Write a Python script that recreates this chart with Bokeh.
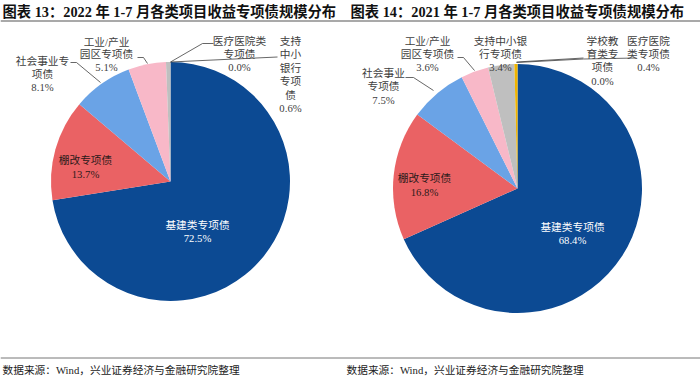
import numpy as np
from bokeh.plotting import figure
from bokeh.models import Range1d
from bokeh.core.properties import value
from bokeh.embed import file_html
from bokeh.resources import INLINE

# ---------------- data ----------------
titles = ["图表 13：2022 年 1-7 月各类项目收益专项债规模分布",
          "图表 14：2021 年 1-7 月各类项目收益专项债规模分布"]
source_note = "数据来源：Wind，兴业证券经济与金融研究院整理"

cats_2022 = ["基建类专项债", "棚改专项债", "社会事业专项债", "工业/产业园区专项债",
             "支持中小银行专项债", "医疗医院类专项债"]
vals_2022 = [72.5, 13.7, 8.1, 5.1, 0.6, 0.0]

cats_2021 = ["基建类专项债", "棚改专项债", "社会事业专项债", "工业/产业园区专项债",
             "支持中小银行专项债", "学校教育类专项债", "医疗医院类专项债"]
vals_2021 = [68.4, 16.8, 7.5, 3.6, 3.4, 0.0, 0.4]

# ---------------- styles ----------------
colors = {
    "基建类专项债": "#0c4a93",
    "棚改专项债": "#ea6264",
    "社会事业专项债": "#6aa3e6",
    "工业/产业园区专项债": "#f8b8c8",
    "支持中小银行专项债": "#bfbfbf",
    "学校教育类专项债": "#8fb04a",
    "医疗医院类专项债": "#f0b400",
}
FONT = value("Liberation Serif, Noto Sans CJK SC")
W, H = 700, 381


def Y(ry):
    return H - ry


p = figure(width=W, height=H, x_range=Range1d(0, W), y_range=Range1d(0, H),
           output_backend="svg", toolbar_location=None, min_border=0)
p.axis.visible = False
p.grid.visible = False
p.outline_line_color = None
p.background_fill_color = "white"
p.border_fill_color = "white"


def draw_pie(cx, cy, r, cats, vals):
    v = np.array(vals, dtype=float)
    frac = v / v.sum()
    cum = np.concatenate([[0], np.cumsum(frac)])
    starts = np.pi / 2 - 2 * np.pi * cum[:-1]
    ends = np.pi / 2 - 2 * np.pi * cum[1:]
    keep = v > 0
    p.wedge(x=[cx] * int(keep.sum()), y=[Y(cy)] * int(keep.sum()), radius=r,
            start_angle=list(starts[keep]), end_angle=list(ends[keep]), direction="clock",
            fill_color=[colors[c] for c, k in zip(cats, keep) if k], line_color=None)


def label(x, y0, lines, pct, step=13.3, color="#404040", size="10.7px"):
    all_lines = list(lines) + [pct]
    ys = [Y(y0 + i * step) for i in range(len(all_lines))]
    p.text(x=[x] * len(all_lines), y=ys, text=all_lines, text_font=FONT,
           text_font_size=size, text_color=color, text_align="center",
           text_baseline="middle")


def leader(pts):
    p.line(x=[a for a, b in pts], y=[Y(b) for a, b in pts], line_color="#404040",
           line_width=0.8)


def pct(vals, cats, name):
    return f"{vals[cats.index(name)]:.1f}%"


# ---------------- left pie (2022) ----------------
draw_pie(170, 181, 119.5, cats_2022, vals_2022)
label(197, 224, ["基建类专项债"], pct(vals_2022, cats_2022, "基建类专项债"), step=13, color="white")
label(85, 159, ["棚改专项债"], pct(vals_2022, cats_2022, "棚改专项债"), step=14, color="#2b1a1a")
label(42, 60, ["社会事业专", "项债"], pct(vals_2022, cats_2022, "社会事业专项债"), step=13)
label(106, 41, ["工业/产业", "园区专项债"], pct(vals_2022, cats_2022, "工业/产业园区专项债"), step=12.7)
label(239, 40, ["医疗医院类", "专项债"], pct(vals_2022, cats_2022, "医疗医院类专项债"), step=13.2)
label(290, 40, ["支持", "中小", "银行", "专项", "债"], pct(vals_2022, cats_2022, "支持中小银行专项债"), step=13.5)
leader([(70, 62), (76, 62), (100, 82)])
leader([(137, 57), (143, 57), (147, 63)])
leader([(213, 43), (202, 43), (170, 61.5)])
leader([(170, 61.5), (277, 56.5)])

# ---------------- right pie (2021) ----------------
draw_pie(517, 188, 124.5, cats_2021, vals_2021)
label(572, 226, ["基建类专项债"], pct(vals_2021, cats_2021, "基建类专项债"), step=13, color="white")
label(424, 177, ["棚改专项债"], pct(vals_2021, cats_2021, "棚改专项债"), step=14, color="#2b1a1a")
label(383, 72, ["社会事业", "专项债"], pct(vals_2021, cats_2021, "社会事业专项债"), step=13.8)
label(427, 40, ["工业/产业", "园区专项债"], pct(vals_2021, cats_2021, "工业/产业园区专项债"), step=13)
label(500, 40, ["支持中小银", "行专项债"], pct(vals_2021, cats_2021, "支持中小银行专项债"), step=13)
label(602, 40, ["学校教", "育类专", "项债"], pct(vals_2021, cats_2021, "学校教育类专项债"), step=13.4)
label(648, 40, ["医疗医院", "类专项债"], pct(vals_2021, cats_2021, "医疗医院类专项债"), step=13)
leader([(405, 77), (413, 77), (433, 90)])
leader([(457, 57), (463, 57), (474, 70)])
leader([(516, 61.5), (583, 57.5)])
leader([(516, 62), (583, 58.5), (636, 57.5)])

# ---------------- titles, rules, footers ----------------
p.text(x=[2, 350], y=[Y(11.5), Y(11.5)], text=titles, text_font=FONT,
       text_font_size="14.3px", text_font_style="bold", text_color="#111111",
       text_align="left", text_baseline="middle")
p.line(x=[0, 700], y=[Y(20.5), Y(20.5)], line_color="#555555", line_width=1.2)
p.line(x=[0, 700], y=[Y(357.5), Y(357.5)], line_color="#777777", line_width=1)
p.text(x=[2, 346], y=[Y(369), Y(369)], text=[source_note, source_note], text_font=FONT,
       text_font_size="10.7px", text_color="#222222", text_align="left",
       text_baseline="middle")

open("out.html", "w").write(file_html(p, INLINE))
